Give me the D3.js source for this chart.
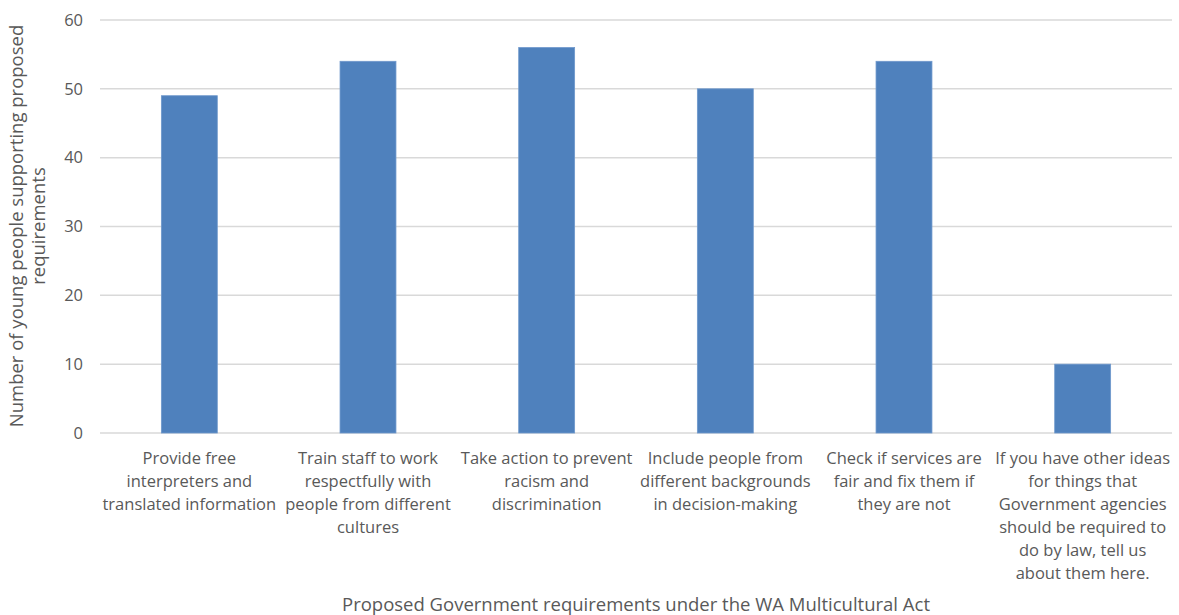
<!DOCTYPE html>
<html><head><meta charset="utf-8">
<script src="https://cdn.jsdelivr.net/npm/d3@7"></script>
<style>body{margin:0;background:#fff}svg{display:block}text{font-family:"Open Sans",sans-serif;fill:#595959}</style>
</head><body><svg id="c" width="1179" height="615"></svg>
<script>
const categories = [
  ["Provide free","interpreters and","translated information"],
  ["Train staff to work","respectfully with","people from different","cultures"],
  ["Take action to prevent","racism and","discrimination"],
  ["Include people from","different backgrounds","in decision-making"],
  ["Check if services are","fair and fix them if","they are not"],
  ["If you have other ideas","for things that","Government agencies","should be required to","do by law, tell us","about them here."]
];
const values = [49, 54, 56, 50, 54, 10];
const yTicks = [0, 10, 20, 30, 40, 50, 60];
const yTitle = ["Number of young people supporting proposed", "requirements"];
const xTitle = "Proposed Government requirements under the WA Multicultural Act";

const svg = d3.select("#c");
const L = 100, R = 1172, T = 20, B = 433;
const x = d3.scaleBand().domain(d3.range(values.length)).range([L, R]).paddingInner(0.687).paddingOuter(0.3435);
const y = d3.scaleLinear().domain([0, 60]).range([B, T]);

svg.append("g").selectAll("line").data(yTicks).join("line")
  .attr("x1", L).attr("x2", R).attr("y1", d => y(d)).attr("y2", d => y(d))
  .attr("stroke", "#d9d9d9").attr("stroke-width", 1.5);

svg.append("g").selectAll("text").data(yTicks).join("text")
  .attr("x", 83).attr("y", d => y(d)).attr("dy", "0.35em").attr("text-anchor", "end")
  .attr("font-size", 16.5).text(d => d);

svg.append("g").selectAll("rect").data(values).join("rect")
  .attr("x", (d, i) => x(i)).attr("width", x.bandwidth())
  .attr("y", d => y(d)).attr("height", d => B - y(d))
  .attr("fill", "#4f81bd").attr("stroke", "#6f98cc").attr("stroke-width", 0.8);

const lab = svg.append("g").selectAll("text").data(categories).join("text")
  .attr("text-anchor", "middle").attr("font-size", 16.5)
  .attr("transform", (d, i) => `translate(${x(i) + x.bandwidth() / 2},0)`);
lab.selectAll("tspan").data(d => d).join("tspan")
  .attr("x", 0).attr("y", (d, j) => 464 + j * 23).text(d => d);

svg.append("text").attr("transform", "translate(28,226) rotate(-90)")
  .attr("text-anchor", "middle").attr("font-size", 18.5)
  .selectAll("tspan").data(yTitle).join("tspan")
  .attr("x", 0).attr("y", (d, j) => -11 + j * 22).attr("dy", "0.35em").text(d => d);

svg.append("text").attr("x", 636).attr("y", 605).attr("dy", "0.35em")
  .attr("text-anchor", "middle").attr("font-size", 18.5).text(xTitle);
</script></body></html>
